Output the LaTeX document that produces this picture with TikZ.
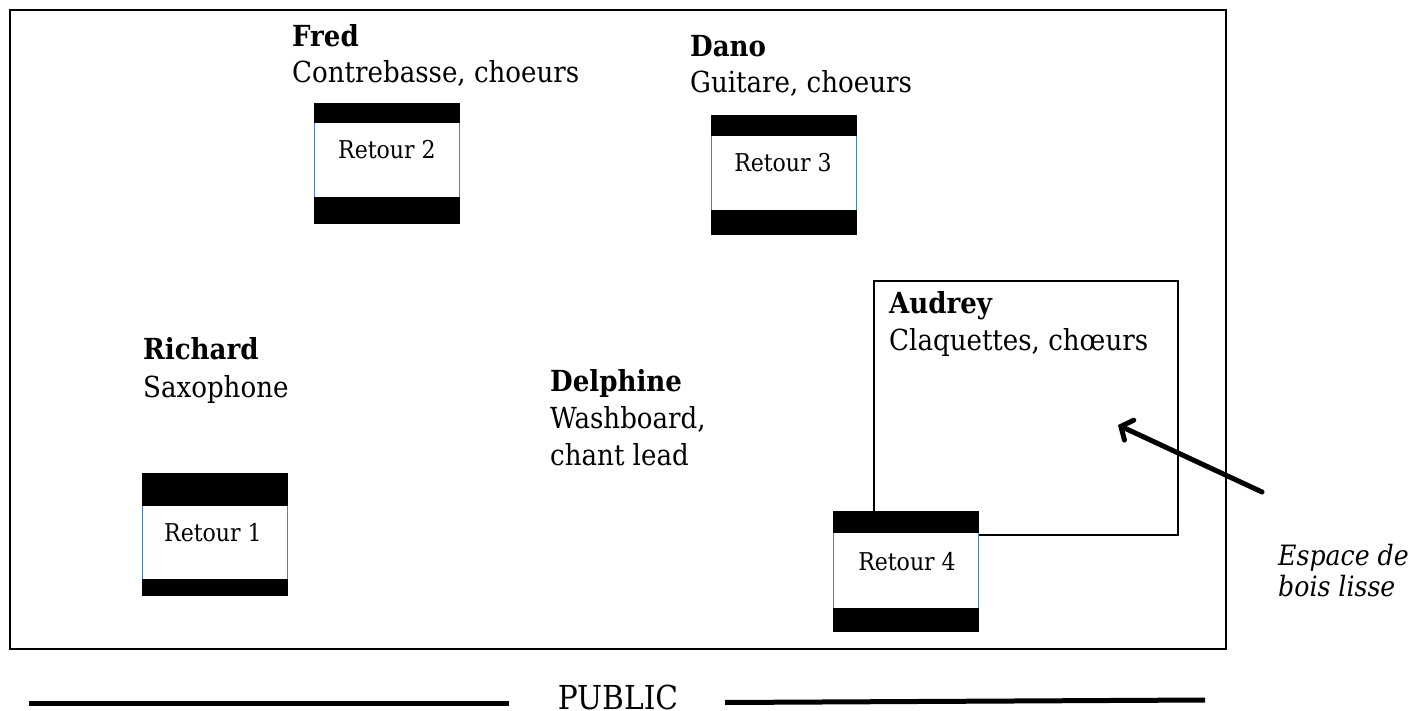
\documentclass[tikz,border=0pt]{standalone}
\usepackage{fontspec}
\setmainfont{DejaVu Serif Condensed}
\usetikzlibrary{arrows.meta,calc}
\definecolor{retblue}{RGB}{79,129,189}
\begin{document}
\begin{tikzpicture}[x=1pt,y=-1pt,
  nm/.style={anchor=base west,inner sep=0pt,font=\fontsize{29}{34}\selectfont\bfseries},
  role/.style={anchor=base west,inner sep=0pt,font=\fontsize{29}{34}\selectfont},
  note/.style={anchor=base west,inner sep=0pt,font=\fontsize{28}{33}\selectfont\itshape},
  retbox/.style={draw=retblue,line width=1pt,fill=white,minimum width=145pt,minimum height=120pt,inner sep=0pt,anchor=north west},
  rettxt/.style={inner sep=0pt,font=\fontsize{24.5}{29}\selectfont},
  band/.style={fill=black}]
\useasboundingbox (0,0) rectangle (1413,711);
% stage
\draw[line width=2.7pt] (10,10) rectangle (1226,649);
% Audrey area
\draw[line width=2pt] (874,535) -- (874,281) -- (1178,281) -- (1178,535) -- (978,535);
% Retour boxes
\node[retbox,minimum height=120pt] (r2) at (314,103) {};
\fill[band] (r2.north west) rectangle ($(r2.north east)+(0,20)$);
\fill[band] ($(r2.south west)+(0,-27)$) rectangle (r2.south east);
\node[rettxt] (r2t) at (387,150) {Retour 2};

\node[retbox,minimum height=119pt] (r3) at (711,115) {};
\fill[band] (r3.north west) rectangle ($(r3.north east)+(0,21)$);
\fill[band] ($(r3.south west)+(0,-25)$) rectangle (r3.south east);
\node[rettxt] (r3t) at (783,163) {Retour 3};

\node[retbox,minimum height=122pt] (r1) at (142,473) {};
\fill[band] (r1.north west) rectangle ($(r1.north east)+(0,33)$);
\fill[band] ($(r1.south west)+(0,-17)$) rectangle (r1.south east);
\node[rettxt] (r1t) at (213,533) {Retour 1};

\node[retbox,minimum height=120pt] (r4) at (833,511) {};
\fill[band] (r4.north west) rectangle ($(r4.north east)+(0,22)$);
\fill[band] ($(r4.south west)+(0,-24)$) rectangle (r4.south east);
\node[rettxt] (r4t) at (907,562) {Retour 4};
% names
\node[nm] (fred) at (292,47) {Fred};
\node[role] (fredr) at (292,83) {Contrebasse, choeurs};
\node[nm] (dano) at (690,57) {Dano};
\node[role] (danor) at (690,93) {Guitare, choeurs};
\node[nm] (rich) at (143,359) {Richard};
\node[role] (richr) at (143,397) {Saxophone};
\node[nm] (delph) at (550,391) {Delphine};
\node[role] (delphr1) at (550,428) {Washboard,};
\node[role] (delphr2) at (550,465) {chant lead};
\node[nm] (aud) at (889,313) {Audrey};
\node[role] (audr) at (889,350) {Claquettes, chœurs};
% arrow
\coordinate (atail) at (1262,492);
\coordinate (atip) at (1118,425);
\draw[line width=5pt,line cap=round,-{Straight Barb[length=9pt,width=22pt,line cap=round]}] (atail) -- (atip);
\node[note] (esp1) at (1278,565) {Espace de};
\node[note] (esp2) at (1278,596) {bois lisse};
% public
\node[anchor=base,inner sep=0pt,font=\fontsize{33}{38}\selectfont] (pub) at (618,709) {PUBLIC};
\coordinate (l1a) at (29,703.5);
\coordinate (l1b) at (509,703.5);
\coordinate (l2a) at (725,702.5);
\coordinate (l2b) at (1205,700);
\draw[line width=5pt] (l1a) -- (l1b);
\draw[line width=5pt] (l2a) -- (l2b);
\end{tikzpicture}
\end{document}
